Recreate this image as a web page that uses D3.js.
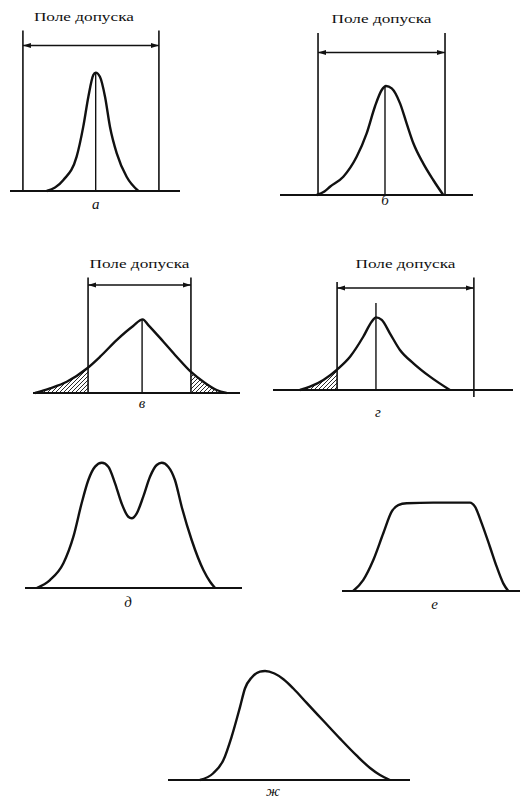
<!DOCTYPE html>
<html>
<head>
<meta charset="utf-8">
<script src="https://cdn.jsdelivr.net/npm/d3@7"></script>
<style>
  body { margin: 0; background: #fff; }
  svg { display: block; }
</style>
</head>
<body>
<svg width="520" height="798"></svg>
<script>

var panelLabels = ["а", "б", "в", "г", "д", "е", "ж"];
var titleText = "Поле допуска";

// curve points: x in % of the baseline, y in height units
var curveA = [[21.6,0],[31.4,7.3],[39.2,22.9],[43.1,42.9],[46.1,62.9],[49.0,77.3],[50.4,78.9],
  [52.9,76.2],[55.9,62.9],[58.8,42.9],[62.8,25.1],[68.6,9.5],[75.5,0]];
var curveB = [[19.0,0],[23.0,2.4],[25.9,5.5],[32.8,12.2],[39.7,25.5],[44.9,41.1],[49.2,59.0],[52.7,70.0],
  [54.9,72.7],[57.9,71.1],[62.2,61.1],[65.6,47.8],[69.1,34.5],[74.2,21.1],[79.4,10],[84.6,0]];
var curveV = [[1.0,0],[8.2,3.1],[16.3,7.5],[26.2,16.5],[32.4,24.2],[40.4,35.3],[48.4,44.7],
  [53.0,49.1],[55.7,45.3],[63.0,34.2],[69.4,24.2],[76.2,14.2],[82.3,7.5],[88.7,2.0],[93.5,0]];
var curveG = [[11.2,0],[15.4,2.2],[21.0,6.7],[26.8,13.8],[32.1,22.2],[37.6,35.5],[41.1,45.5],
  [42.9,48.4],[45.3,46.7],[48.7,37.8],[52.9,26.7],[58.5,17.8],[65.4,8.9],[73.7,0]];
var curveD = [[5.4,0],[11.5,5.3],[17.7,16.5],[22.3,34.2],[26.1,56.5],[29.2,72],[32.3,80.9],
  [35.4,83.5],[38.4,80.9],[41.5,69.8],[44.5,56.5],[47.6,47.5],[49.2,46.5],[51.5,49.8],
  [54.5,60.9],[57.6,74.2],[60.7,82],[63.0,83.5],[66.0,80.9],[69.1,72],[72.2,54.2],
  [76.8,32],[82.2,12],[85.3,4.2],[87.6,0]];
var curveE = [[6.3,0],[11.9,7.3],[17.6,20.7],[23.2,38.5],[27.9,52.9],[31.6,57.3],[36.3,58.5],
  [51.3,58.9],[71.9,58.9],[74.7,56.2],[78.5,45.1],[83.1,29.5],[86.9,16.2],[90.6,5.1],[93.4,0]];
var curveZh = [[13.2,0],[18.7,4.5],[22.9,13.3],[26.3,28.9],[29.8,48.9],[31.8,61.0],[34.6,68.4],
  [38.0,72.2],[40.1,72.7],[44.0,71.0],[47.7,67.2],[51.8,61.0],[57.3,51.4],[64.2,39.5],
  [71.1,27.6],[78.0,16.2],[83.5,8.0],[87.6,3.3],[91.7,0]];

// tolerance field (only first four panels)
var toleranceLow = [7.6, 19.7, 26.6, 26.7];
var toleranceHigh = [87.6, 85.5, 76.3, 83.7];
var toleranceTop = [[107, 107], [108, 108], [77, 77], [72, 75]];
var dimensionLevel = [97, 95, 72, 68];
var centerLine = [[50.4, 79], [54.4, 72.7], [52.7, 49], [42.9, 58]];
// tails outside the field that are hatched
var hatchedSides = [[], [], ["low", "high"], ["low"]];

var curves = [curveA, curveB, curveV, curveG, curveD, curveE, curveZh];

// layout of each small plot on the page
var frames = [
  {x0: 10,  x1: 180, base: 191, labelX: 50.4, labelDy: 18, titleY: 21,  titleDx: -7},
  {x0: 280, x1: 473, base: 195, labelX: 54.4, labelDy: 10, titleY: 23,  titleDx: 0},
  {x0: 33,  x1: 240, base: 393, labelX: 52.7, labelDy: 15, titleY: 268, titleDx: 0},
  {x0: 273, x1: 513, base: 390, labelX: 43.7, labelDy: 27, titleY: 268, titleDx: 0},
  {x0: 25,  x1: 242, base: 588, labelX: 47.5, labelDy: 19},
  {x0: 342, x1: 520, base: 591, labelX: 52,   labelDy: 18},
  {x0: 168, x1: 410, base: 780, labelX: 43.4, labelDy: 16}
];

var ink = "#111";
var serif = "'Liberation Serif', 'Times New Roman', serif";

var svg = d3.select("svg");
var defs = svg.append("defs");

// diagonal hatching
defs.append("pattern")
  .attr("id", "hatch")
  .attr("patternUnits", "userSpaceOnUse")
  .attr("width", 4)
  .attr("height", 4)
  .append("path")
  .attr("d", "M-1,1 l2,-2 M0,4 l4,-4 M3,5 l2,-2")
  .attr("stroke", ink)
  .attr("stroke-width", 0.9);

defs.append("marker")
  .attr("id", "arrow")
  .attr("viewBox", "0 0 8 6")
  .attr("refX", 8)
  .attr("refY", 3)
  .attr("markerWidth", 8)
  .attr("markerHeight", 6)
  .attr("markerUnits", "userSpaceOnUse")
  .attr("orient", "auto-start-reverse")
  .append("path")
  .attr("d", "M0,0.5 L8,3 L0,5.5 z")
  .attr("fill", ink);

curves.forEach(function(points, i) {
  let f = frames[i];
  let x = d3.scaleLinear().domain([0, 100]).range([f.x0, f.x1]);
  let y = d3.scaleLinear().domain([0, 100]).range([f.base, f.base - 150]);
  let g = svg.append("g").attr("class", "panel");

  let line = d3.line()
    .x(function(d) { return x(d[0]); })
    .y(function(d) { return y(d[1]); })
    .curve(d3.curveMonotoneX);

  let area = d3.area()
    .x(function(d) { return x(d[0]); })
    .y0(y(0))
    .y1(function(d) { return y(d[1]); })
    .curve(d3.curveMonotoneX);

  if (i < 4) {
    let lo = toleranceLow[i], hi = toleranceHigh[i];

    // hatched tails, clipped to outside of the field
    if (hatchedSides[i].length > 0) {
      let clip = defs.append("clipPath").attr("id", "tail" + i);
      hatchedSides[i].forEach(function(side) {
        let a = side == "low" ? 0 : hi;
        let b = side == "low" ? lo : 100;
        clip.append("rect")
          .attr("x", x(a))
          .attr("width", x(b) - x(a))
          .attr("y", y(100))
          .attr("height", y(0) - y(100));
      });
      g.append("path")
        .attr("d", area(points))
        .attr("fill", "url(#hatch)")
        .attr("clip-path", "url(#tail" + i + ")");
    }

    // vertical limit lines
    let bottom = i == 3 ? [0, -4.7] : [0, 0];
    [lo, hi].forEach(function(v, k) {
      g.append("line")
        .attr("x1", x(v)).attr("x2", x(v))
        .attr("y1", y(toleranceTop[i][k]))
        .attr("y2", y(bottom[k]))
        .attr("stroke", ink)
        .attr("stroke-width", 1.6);
    });

    // dimension arrow
    g.append("line")
      .attr("x1", x(lo)).attr("x2", x(hi))
      .attr("y1", y(dimensionLevel[i])).attr("y2", y(dimensionLevel[i]))
      .attr("stroke", ink)
      .attr("stroke-width", 1.6)
      .attr("marker-start", "url(#arrow)")
      .attr("marker-end", "url(#arrow)");

    // centre line
    g.append("line")
      .attr("x1", x(centerLine[i][0])).attr("x2", x(centerLine[i][0]))
      .attr("y1", y(centerLine[i][1])).attr("y2", y(0))
      .attr("stroke", ink)
      .attr("stroke-width", 1.4);

    g.append("text")
      .attr("x", x((lo + hi) / 2) + f.titleDx)
      .attr("y", f.titleY)
      .attr("text-anchor", "middle")
      .attr("font-family", serif)
      .attr("font-size", 13)
      .attr("textLength", 100)
      .attr("lengthAdjust", "spacingAndGlyphs")
      .attr("fill", ink)
      .text(titleText);
  }

  // baseline
  g.append("line")
    .attr("x1", x(0)).attr("x2", x(100))
    .attr("y1", y(0)).attr("y2", y(0))
    .attr("stroke", ink)
    .attr("stroke-width", 2);

  g.append("path")
    .attr("d", line(points))
    .attr("fill", "none")
    .attr("stroke", ink)
    .attr("stroke-width", 2.4)
    .attr("stroke-linejoin", "round");

  g.append("text")
    .attr("x", x(f.labelX))
    .attr("y", f.base + f.labelDy)
    .attr("text-anchor", "middle")
    .attr("font-family", serif)
    .attr("font-style", "italic")
    .attr("font-size", 15)
    .attr("fill", ink)
    .text(panelLabels[i]);
});

</script>
</body>
</html>
